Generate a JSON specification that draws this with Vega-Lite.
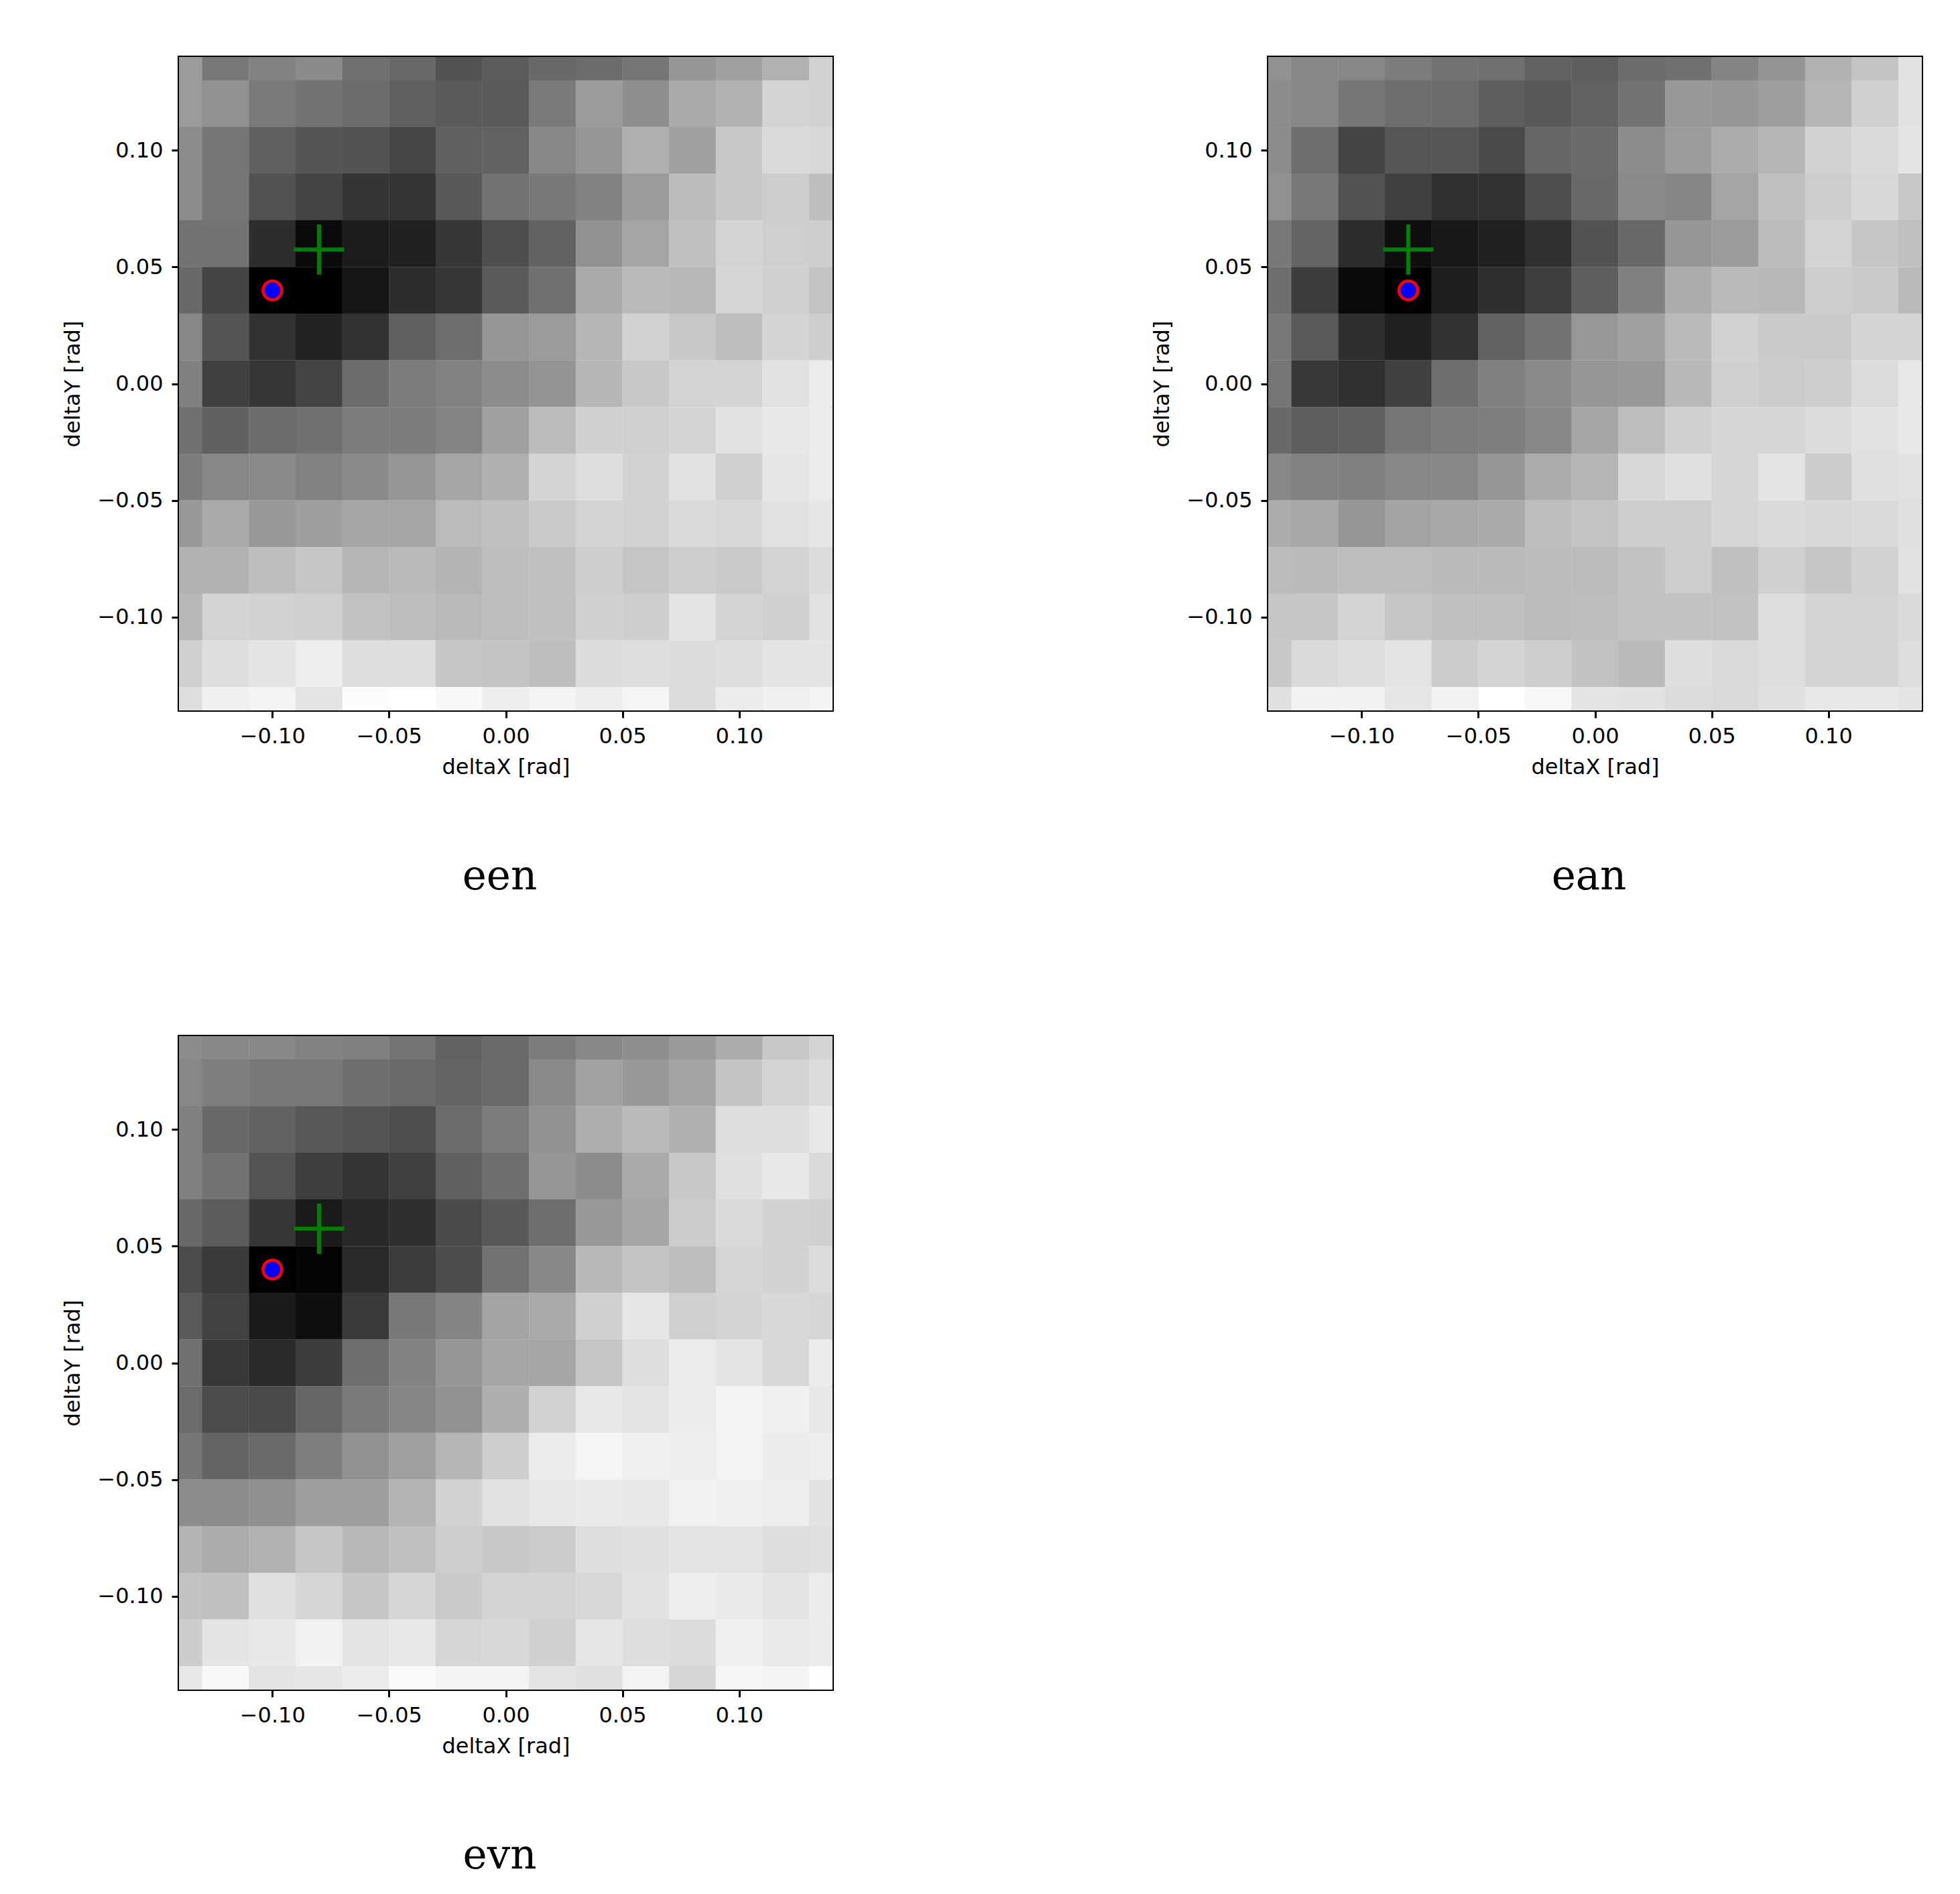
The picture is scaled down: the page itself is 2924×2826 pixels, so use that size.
{"$schema":"https://vega.github.io/schema/vega-lite/v6.json","background":"white","padding":{"left":90,"top":83,"right":0,"bottom":0},"columns":2,"bounds":"flush","spacing":{"column":650,"row":486},
"config":{"view":{"stroke":"#000000","strokeWidth":4},"title":{"font":"DejaVu Serif","fontSize":61,"fontWeight":"normal","color":"#000000","orient":"bottom","anchor":"middle","offset":119,"dx":-9},"axis":{"grid":false,"domain":false,"tickColor":"#000000","tickWidth":3,"tickSize":11,"labelFont":"DejaVu Sans","labelFontSize":32,"labelColor":"#000000","titleFont":"DejaVu Sans","titleFontSize":32,"titleFontWeight":"normal","titleColor":"#000000","format":".2f"},"axisX":{"labelPadding":12,"titlePadding":15},"axisY":{"labelPadding":13,"titlePadding":19}},
"datasets":{
"een":[
{"x":-0.14,"y":0.14,"v":155},{"x":-0.12,"y":0.14,"v":120},{"x":-0.1,"y":0.14,"v":130},{"x":-0.08,"y":0.14,"v":138},{"x":-0.06,"y":0.14,"v":112},{"x":-0.04,"y":0.14,"v":105},{"x":-0.02,"y":0.14,"v":82},{"x":0,"y":0.14,"v":92},{"x":0.02,"y":0.14,"v":105},{"x":0.04,"y":0.14,"v":108},{"x":0.06,"y":0.14,"v":118},{"x":0.08,"y":0.14,"v":150},{"x":0.1,"y":0.14,"v":160},{"x":0.12,"y":0.14,"v":178},{"x":0.14,"y":0.14,"v":210},
{"x":-0.14,"y":0.12,"v":155},{"x":-0.12,"y":0.12,"v":145},{"x":-0.1,"y":0.12,"v":122},{"x":-0.08,"y":0.12,"v":115},{"x":-0.06,"y":0.12,"v":108},{"x":-0.04,"y":0.12,"v":96},{"x":-0.02,"y":0.12,"v":90},{"x":0,"y":0.12,"v":90},{"x":0.02,"y":0.12,"v":122},{"x":0.04,"y":0.12,"v":155},{"x":0.06,"y":0.12,"v":142},{"x":0.08,"y":0.12,"v":170},{"x":0.1,"y":0.12,"v":178},{"x":0.12,"y":0.12,"v":212},{"x":0.14,"y":0.12,"v":210},
{"x":-0.14,"y":0.1,"v":140},{"x":-0.12,"y":0.1,"v":118},{"x":-0.1,"y":0.1,"v":96},{"x":-0.08,"y":0.1,"v":85},{"x":-0.06,"y":0.1,"v":82},{"x":-0.04,"y":0.1,"v":70},{"x":-0.02,"y":0.1,"v":96},{"x":0,"y":0.1,"v":98},{"x":0.02,"y":0.1,"v":135},{"x":0.04,"y":0.1,"v":150},{"x":0.06,"y":0.1,"v":175},{"x":0.08,"y":0.1,"v":160},{"x":0.1,"y":0.1,"v":200},{"x":0.12,"y":0.1,"v":218},{"x":0.14,"y":0.1,"v":215},
{"x":-0.14,"y":0.08,"v":140},{"x":-0.12,"y":0.08,"v":118},{"x":-0.1,"y":0.08,"v":82},{"x":-0.08,"y":0.08,"v":68},{"x":-0.06,"y":0.08,"v":52},{"x":-0.04,"y":0.08,"v":52},{"x":-0.02,"y":0.08,"v":88},{"x":0,"y":0.08,"v":115},{"x":0.02,"y":0.08,"v":120},{"x":0.04,"y":0.08,"v":130},{"x":0.06,"y":0.08,"v":155},{"x":0.08,"y":0.08,"v":188},{"x":0.1,"y":0.08,"v":200},{"x":0.12,"y":0.08,"v":205},{"x":0.14,"y":0.08,"v":190},
{"x":-0.14,"y":0.06,"v":115},{"x":-0.12,"y":0.06,"v":115},{"x":-0.1,"y":0.06,"v":45},{"x":-0.08,"y":0.06,"v":10},{"x":-0.06,"y":0.06,"v":28},{"x":-0.04,"y":0.06,"v":32},{"x":-0.02,"y":0.06,"v":55},{"x":0,"y":0.06,"v":78},{"x":0.02,"y":0.06,"v":98},{"x":0.04,"y":0.06,"v":145},{"x":0.06,"y":0.06,"v":165},{"x":0.08,"y":0.06,"v":192},{"x":0.1,"y":0.06,"v":212},{"x":0.12,"y":0.06,"v":207},{"x":0.14,"y":0.06,"v":205},
{"x":-0.14,"y":0.04,"v":105},{"x":-0.12,"y":0.04,"v":68},{"x":-0.1,"y":0.04,"v":0},{"x":-0.08,"y":0.04,"v":0},{"x":-0.06,"y":0.04,"v":22},{"x":-0.04,"y":0.04,"v":44},{"x":-0.02,"y":0.04,"v":54},{"x":0,"y":0.04,"v":90},{"x":0.02,"y":0.04,"v":112},{"x":0.04,"y":0.04,"v":170},{"x":0.06,"y":0.04,"v":186},{"x":0.08,"y":0.04,"v":183},{"x":0.1,"y":0.04,"v":213},{"x":0.12,"y":0.04,"v":208},{"x":0.14,"y":0.04,"v":195},
{"x":-0.14,"y":0.02,"v":135},{"x":-0.12,"y":0.02,"v":85},{"x":-0.1,"y":0.02,"v":50},{"x":-0.08,"y":0.02,"v":34},{"x":-0.06,"y":0.02,"v":50},{"x":-0.04,"y":0.02,"v":96},{"x":-0.02,"y":0.02,"v":110},{"x":0,"y":0.02,"v":150},{"x":0.02,"y":0.02,"v":155},{"x":0.04,"y":0.02,"v":182},{"x":0.06,"y":0.02,"v":210},{"x":0.08,"y":0.02,"v":200},{"x":0.1,"y":0.02,"v":190},{"x":0.12,"y":0.02,"v":212},{"x":0.14,"y":0.02,"v":205},
{"x":-0.14,"y":0,"v":128},{"x":-0.12,"y":0,"v":64},{"x":-0.1,"y":0,"v":54},{"x":-0.08,"y":0,"v":68},{"x":-0.06,"y":0,"v":108},{"x":-0.04,"y":0,"v":124},{"x":-0.02,"y":0,"v":130},{"x":0,"y":0,"v":140},{"x":0.02,"y":0,"v":148},{"x":0.04,"y":0,"v":182},{"x":0.06,"y":0,"v":200},{"x":0.08,"y":0,"v":212},{"x":0.1,"y":0,"v":212},{"x":0.12,"y":0,"v":225},{"x":0.14,"y":0,"v":235},
{"x":-0.14,"y":-0.02,"v":112},{"x":-0.12,"y":-0.02,"v":96},{"x":-0.1,"y":-0.02,"v":108},{"x":-0.08,"y":-0.02,"v":112},{"x":-0.06,"y":-0.02,"v":124},{"x":-0.04,"y":-0.02,"v":124},{"x":-0.02,"y":-0.02,"v":132},{"x":0,"y":-0.02,"v":160},{"x":0.02,"y":-0.02,"v":188},{"x":0.04,"y":-0.02,"v":208},{"x":0.06,"y":-0.02,"v":208},{"x":0.08,"y":-0.02,"v":212},{"x":0.1,"y":-0.02,"v":226},{"x":0.12,"y":-0.02,"v":232},{"x":0.14,"y":-0.02,"v":235},
{"x":-0.14,"y":-0.04,"v":125},{"x":-0.12,"y":-0.04,"v":135},{"x":-0.1,"y":-0.04,"v":138},{"x":-0.08,"y":-0.04,"v":130},{"x":-0.06,"y":-0.04,"v":138},{"x":-0.04,"y":-0.04,"v":150},{"x":-0.02,"y":-0.04,"v":165},{"x":0,"y":-0.04,"v":175},{"x":0.02,"y":-0.04,"v":212},{"x":0.04,"y":-0.04,"v":222},{"x":0.06,"y":-0.04,"v":210},{"x":0.08,"y":-0.04,"v":226},{"x":0.1,"y":-0.04,"v":208},{"x":0.12,"y":-0.04,"v":230},{"x":0.14,"y":-0.04,"v":235},
{"x":-0.14,"y":-0.06,"v":152},{"x":-0.12,"y":-0.06,"v":170},{"x":-0.1,"y":-0.06,"v":152},{"x":-0.08,"y":-0.06,"v":158},{"x":-0.06,"y":-0.06,"v":165},{"x":-0.04,"y":-0.06,"v":165},{"x":-0.02,"y":-0.06,"v":187},{"x":0,"y":-0.06,"v":192},{"x":0.02,"y":-0.06,"v":202},{"x":0.04,"y":-0.06,"v":212},{"x":0.06,"y":-0.06,"v":210},{"x":0.08,"y":-0.06,"v":218},{"x":0.1,"y":-0.06,"v":216},{"x":0.12,"y":-0.06,"v":225},{"x":0.14,"y":-0.06,"v":230},
{"x":-0.14,"y":-0.08,"v":178},{"x":-0.12,"y":-0.08,"v":178},{"x":-0.1,"y":-0.08,"v":190},{"x":-0.08,"y":-0.08,"v":198},{"x":-0.06,"y":-0.08,"v":182},{"x":-0.04,"y":-0.08,"v":186},{"x":-0.02,"y":-0.08,"v":180},{"x":0,"y":-0.08,"v":190},{"x":0.02,"y":-0.08,"v":192},{"x":0.04,"y":-0.08,"v":206},{"x":0.06,"y":-0.08,"v":198},{"x":0.08,"y":-0.08,"v":206},{"x":0.1,"y":-0.08,"v":202},{"x":0.12,"y":-0.08,"v":212},{"x":0.14,"y":-0.08,"v":220},
{"x":-0.14,"y":-0.1,"v":184},{"x":-0.12,"y":-0.1,"v":212},{"x":-0.1,"y":-0.1,"v":210},{"x":-0.08,"y":-0.1,"v":208},{"x":-0.06,"y":-0.1,"v":194},{"x":-0.04,"y":-0.1,"v":190},{"x":-0.02,"y":-0.1,"v":186},{"x":0,"y":-0.1,"v":190},{"x":0.02,"y":-0.1,"v":192},{"x":0.04,"y":-0.1,"v":208},{"x":0.06,"y":-0.1,"v":206},{"x":0.08,"y":-0.1,"v":228},{"x":0.1,"y":-0.1,"v":212},{"x":0.12,"y":-0.1,"v":208},{"x":0.14,"y":-0.1,"v":225},
{"x":-0.14,"y":-0.12,"v":208},{"x":-0.12,"y":-0.12,"v":222},{"x":-0.1,"y":-0.12,"v":228},{"x":-0.08,"y":-0.12,"v":238},{"x":-0.06,"y":-0.12,"v":222},{"x":-0.04,"y":-0.12,"v":222},{"x":-0.02,"y":-0.12,"v":198},{"x":0,"y":-0.12,"v":196},{"x":0.02,"y":-0.12,"v":190},{"x":0.04,"y":-0.12,"v":220},{"x":0.06,"y":-0.12,"v":222},{"x":0.08,"y":-0.12,"v":220},{"x":0.1,"y":-0.12,"v":222},{"x":0.12,"y":-0.12,"v":228},{"x":0.14,"y":-0.12,"v":228},
{"x":-0.14,"y":-0.14,"v":222},{"x":-0.12,"y":-0.14,"v":240},{"x":-0.1,"y":-0.14,"v":243},{"x":-0.08,"y":-0.14,"v":228},{"x":-0.06,"y":-0.14,"v":252},{"x":-0.04,"y":-0.14,"v":255},{"x":-0.02,"y":-0.14,"v":248},{"x":0,"y":-0.14,"v":238},{"x":0.02,"y":-0.14,"v":243},{"x":0.04,"y":-0.14,"v":238},{"x":0.06,"y":-0.14,"v":245},{"x":0.08,"y":-0.14,"v":220},{"x":0.1,"y":-0.14,"v":235},{"x":0.12,"y":-0.14,"v":240},{"x":0.14,"y":-0.14,"v":243}],
"ean":[
{"x":-0.14,"y":0.14,"v":145},{"x":-0.12,"y":0.14,"v":135},{"x":-0.1,"y":0.14,"v":135},{"x":-0.08,"y":0.14,"v":125},{"x":-0.06,"y":0.14,"v":115},{"x":-0.04,"y":0.14,"v":112},{"x":-0.02,"y":0.14,"v":98},{"x":0,"y":0.14,"v":94},{"x":0.02,"y":0.14,"v":108},{"x":0.04,"y":0.14,"v":112},{"x":0.06,"y":0.14,"v":132},{"x":0.08,"y":0.14,"v":148},{"x":0.1,"y":0.14,"v":178},{"x":0.12,"y":0.14,"v":195},{"x":0.14,"y":0.14,"v":225},
{"x":-0.14,"y":0.12,"v":140},{"x":-0.12,"y":0.12,"v":135},{"x":-0.1,"y":0.12,"v":118},{"x":-0.08,"y":0.12,"v":110},{"x":-0.06,"y":0.12,"v":108},{"x":-0.04,"y":0.12,"v":94},{"x":-0.02,"y":0.12,"v":88},{"x":0,"y":0.12,"v":98},{"x":0.02,"y":0.12,"v":115},{"x":0.04,"y":0.12,"v":152},{"x":0.06,"y":0.12,"v":150},{"x":0.08,"y":0.12,"v":158},{"x":0.1,"y":0.12,"v":182},{"x":0.12,"y":0.12,"v":208},{"x":0.14,"y":0.12,"v":226},
{"x":-0.14,"y":0.1,"v":140},{"x":-0.12,"y":0.1,"v":110},{"x":-0.1,"y":0.1,"v":68},{"x":-0.08,"y":0.1,"v":86},{"x":-0.06,"y":0.1,"v":86},{"x":-0.04,"y":0.1,"v":74},{"x":-0.02,"y":0.1,"v":102},{"x":0,"y":0.1,"v":106},{"x":0.02,"y":0.1,"v":140},{"x":0.04,"y":0.1,"v":155},{"x":0.06,"y":0.1,"v":172},{"x":0.08,"y":0.1,"v":182},{"x":0.1,"y":0.1,"v":210},{"x":0.12,"y":0.1,"v":218},{"x":0.14,"y":0.1,"v":228},
{"x":-0.14,"y":0.08,"v":145},{"x":-0.12,"y":0.08,"v":120},{"x":-0.1,"y":0.08,"v":82},{"x":-0.08,"y":0.08,"v":64},{"x":-0.06,"y":0.08,"v":48},{"x":-0.04,"y":0.08,"v":50},{"x":-0.02,"y":0.08,"v":78},{"x":0,"y":0.08,"v":105},{"x":0.02,"y":0.08,"v":138},{"x":0.04,"y":0.08,"v":134},{"x":0.06,"y":0.08,"v":165},{"x":0.08,"y":0.08,"v":192},{"x":0.1,"y":0.08,"v":205},{"x":0.12,"y":0.08,"v":216},{"x":0.14,"y":0.08,"v":200},
{"x":-0.14,"y":0.06,"v":120},{"x":-0.12,"y":0.06,"v":100},{"x":-0.1,"y":0.06,"v":44},{"x":-0.08,"y":0.06,"v":14},{"x":-0.06,"y":0.06,"v":24},{"x":-0.04,"y":0.06,"v":32},{"x":-0.02,"y":0.06,"v":48},{"x":0,"y":0.06,"v":82},{"x":0.02,"y":0.06,"v":104},{"x":0.04,"y":0.06,"v":150},{"x":0.06,"y":0.06,"v":156},{"x":0.08,"y":0.06,"v":188},{"x":0.1,"y":0.06,"v":212},{"x":0.12,"y":0.06,"v":198},{"x":0.14,"y":0.06,"v":192},
{"x":-0.14,"y":0.04,"v":110},{"x":-0.12,"y":0.04,"v":60},{"x":-0.1,"y":0.04,"v":10},{"x":-0.08,"y":0.04,"v":0},{"x":-0.06,"y":0.04,"v":30},{"x":-0.04,"y":0.04,"v":46},{"x":-0.02,"y":0.04,"v":62},{"x":0,"y":0.04,"v":94},{"x":0.02,"y":0.04,"v":128},{"x":0.04,"y":0.04,"v":172},{"x":0.06,"y":0.04,"v":186},{"x":0.08,"y":0.04,"v":184},{"x":0.1,"y":0.04,"v":205},{"x":0.12,"y":0.04,"v":202},{"x":0.14,"y":0.04,"v":186},
{"x":-0.14,"y":0.02,"v":120},{"x":-0.12,"y":0.02,"v":90},{"x":-0.1,"y":0.02,"v":46},{"x":-0.08,"y":0.02,"v":32},{"x":-0.06,"y":0.02,"v":50},{"x":-0.04,"y":0.02,"v":98},{"x":-0.02,"y":0.02,"v":115},{"x":0,"y":0.02,"v":152},{"x":0.02,"y":0.02,"v":160},{"x":0.04,"y":0.02,"v":186},{"x":0.06,"y":0.02,"v":210},{"x":0.08,"y":0.02,"v":202},{"x":0.1,"y":0.02,"v":202},{"x":0.12,"y":0.02,"v":212},{"x":0.14,"y":0.02,"v":212},
{"x":-0.14,"y":0,"v":118},{"x":-0.12,"y":0,"v":56},{"x":-0.1,"y":0,"v":48},{"x":-0.08,"y":0,"v":64},{"x":-0.06,"y":0,"v":110},{"x":-0.04,"y":0,"v":128},{"x":-0.02,"y":0,"v":138},{"x":0,"y":0,"v":150},{"x":0.02,"y":0,"v":152},{"x":0.04,"y":0,"v":184},{"x":0.06,"y":0,"v":208},{"x":0.08,"y":0,"v":204},{"x":0.1,"y":0,"v":206},{"x":0.12,"y":0,"v":220},{"x":0.14,"y":0,"v":232},
{"x":-0.14,"y":-0.02,"v":105},{"x":-0.12,"y":-0.02,"v":94},{"x":-0.1,"y":-0.02,"v":96},{"x":-0.08,"y":-0.02,"v":118},{"x":-0.06,"y":-0.02,"v":124},{"x":-0.04,"y":-0.02,"v":126},{"x":-0.02,"y":-0.02,"v":136},{"x":0,"y":-0.02,"v":165},{"x":0.02,"y":-0.02,"v":190},{"x":0.04,"y":-0.02,"v":208},{"x":0.06,"y":-0.02,"v":214},{"x":0.08,"y":-0.02,"v":214},{"x":0.1,"y":-0.02,"v":220},{"x":0.12,"y":-0.02,"v":225},{"x":0.14,"y":-0.02,"v":232},
{"x":-0.14,"y":-0.04,"v":135},{"x":-0.12,"y":-0.04,"v":130},{"x":-0.1,"y":-0.04,"v":128},{"x":-0.08,"y":-0.04,"v":136},{"x":-0.06,"y":-0.04,"v":136},{"x":-0.04,"y":-0.04,"v":150},{"x":-0.02,"y":-0.04,"v":172},{"x":0,"y":-0.04,"v":182},{"x":0.02,"y":-0.04,"v":216},{"x":0.04,"y":-0.04,"v":224},{"x":0.06,"y":-0.04,"v":214},{"x":0.08,"y":-0.04,"v":228},{"x":0.1,"y":-0.04,"v":204},{"x":0.12,"y":-0.04,"v":224},{"x":0.14,"y":-0.04,"v":225},
{"x":-0.14,"y":-0.06,"v":172},{"x":-0.12,"y":-0.06,"v":168},{"x":-0.1,"y":-0.06,"v":150},{"x":-0.08,"y":-0.06,"v":164},{"x":-0.06,"y":-0.06,"v":168},{"x":-0.04,"y":-0.06,"v":170},{"x":-0.02,"y":-0.06,"v":190},{"x":0,"y":-0.06,"v":196},{"x":0.02,"y":-0.06,"v":206},{"x":0.04,"y":-0.06,"v":206},{"x":0.06,"y":-0.06,"v":214},{"x":0.08,"y":-0.06,"v":218},{"x":0.1,"y":-0.06,"v":216},{"x":0.12,"y":-0.06,"v":218},{"x":0.14,"y":-0.06,"v":224},
{"x":-0.14,"y":-0.08,"v":188},{"x":-0.12,"y":-0.08,"v":186},{"x":-0.1,"y":-0.08,"v":190},{"x":-0.08,"y":-0.08,"v":190},{"x":-0.06,"y":-0.08,"v":186},{"x":-0.04,"y":-0.08,"v":186},{"x":-0.02,"y":-0.08,"v":188},{"x":0,"y":-0.08,"v":188},{"x":0.02,"y":-0.08,"v":194},{"x":0.04,"y":-0.08,"v":205},{"x":0.06,"y":-0.08,"v":192},{"x":0.08,"y":-0.08,"v":208},{"x":0.1,"y":-0.08,"v":198},{"x":0.12,"y":-0.08,"v":210},{"x":0.14,"y":-0.08,"v":226},
{"x":-0.14,"y":-0.1,"v":198},{"x":-0.12,"y":-0.1,"v":198},{"x":-0.1,"y":-0.1,"v":212},{"x":-0.08,"y":-0.1,"v":198},{"x":-0.06,"y":-0.1,"v":192},{"x":-0.04,"y":-0.1,"v":192},{"x":-0.02,"y":-0.1,"v":188},{"x":0,"y":-0.1,"v":190},{"x":0.02,"y":-0.1,"v":194},{"x":0.04,"y":-0.1,"v":194},{"x":0.06,"y":-0.1,"v":194},{"x":0.08,"y":-0.1,"v":222},{"x":0.1,"y":-0.1,"v":212},{"x":0.12,"y":-0.1,"v":212},{"x":0.14,"y":-0.1,"v":218},
{"x":-0.14,"y":-0.12,"v":200},{"x":-0.12,"y":-0.12,"v":218},{"x":-0.1,"y":-0.12,"v":222},{"x":-0.08,"y":-0.12,"v":228},{"x":-0.06,"y":-0.12,"v":204},{"x":-0.04,"y":-0.12,"v":212},{"x":-0.02,"y":-0.12,"v":205},{"x":0,"y":-0.12,"v":194},{"x":0.02,"y":-0.12,"v":186},{"x":0.04,"y":-0.12,"v":222},{"x":0.06,"y":-0.12,"v":218},{"x":0.08,"y":-0.12,"v":222},{"x":0.1,"y":-0.12,"v":212},{"x":0.12,"y":-0.12,"v":212},{"x":0.14,"y":-0.12,"v":222},
{"x":-0.14,"y":-0.14,"v":224},{"x":-0.12,"y":-0.14,"v":242},{"x":-0.1,"y":-0.14,"v":242},{"x":-0.08,"y":-0.14,"v":230},{"x":-0.06,"y":-0.14,"v":242},{"x":-0.04,"y":-0.14,"v":255},{"x":-0.02,"y":-0.14,"v":248},{"x":0,"y":-0.14,"v":228},{"x":0.02,"y":-0.14,"v":226},{"x":0.04,"y":-0.14,"v":220},{"x":0.06,"y":-0.14,"v":218},{"x":0.08,"y":-0.14,"v":224},{"x":0.1,"y":-0.14,"v":232},{"x":0.12,"y":-0.14,"v":232},{"x":0.14,"y":-0.14,"v":228}],
"evn":[
{"x":-0.14,"y":0.14,"v":140},{"x":-0.12,"y":0.14,"v":136},{"x":-0.1,"y":0.14,"v":136},{"x":-0.08,"y":0.14,"v":130},{"x":-0.06,"y":0.14,"v":128},{"x":-0.04,"y":0.14,"v":116},{"x":-0.02,"y":0.14,"v":98},{"x":0,"y":0.14,"v":106},{"x":0.02,"y":0.14,"v":125},{"x":0.04,"y":0.14,"v":136},{"x":0.06,"y":0.14,"v":142},{"x":0.08,"y":0.14,"v":154},{"x":0.1,"y":0.14,"v":172},{"x":0.12,"y":0.14,"v":200},{"x":0.14,"y":0.14,"v":212},
{"x":-0.14,"y":0.12,"v":135},{"x":-0.12,"y":0.12,"v":126},{"x":-0.1,"y":0.12,"v":120},{"x":-0.08,"y":0.12,"v":120},{"x":-0.06,"y":0.12,"v":110},{"x":-0.04,"y":0.12,"v":106},{"x":-0.02,"y":0.12,"v":100},{"x":0,"y":0.12,"v":106},{"x":0.02,"y":0.12,"v":138},{"x":0.04,"y":0.12,"v":162},{"x":0.06,"y":0.12,"v":152},{"x":0.08,"y":0.12,"v":164},{"x":0.1,"y":0.12,"v":196},{"x":0.12,"y":0.12,"v":212},{"x":0.14,"y":0.12,"v":220},
{"x":-0.14,"y":0.1,"v":128},{"x":-0.12,"y":0.1,"v":105},{"x":-0.1,"y":0.1,"v":98},{"x":-0.08,"y":0.1,"v":88},{"x":-0.06,"y":0.1,"v":84},{"x":-0.04,"y":0.1,"v":78},{"x":-0.02,"y":0.1,"v":108},{"x":0,"y":0.1,"v":124},{"x":0.02,"y":0.1,"v":146},{"x":0.04,"y":0.1,"v":174},{"x":0.06,"y":0.1,"v":186},{"x":0.08,"y":0.1,"v":176},{"x":0.1,"y":0.1,"v":222},{"x":0.12,"y":0.1,"v":222},{"x":0.14,"y":0.1,"v":232},
{"x":-0.14,"y":0.08,"v":128},{"x":-0.12,"y":0.08,"v":115},{"x":-0.1,"y":0.08,"v":84},{"x":-0.08,"y":0.08,"v":62},{"x":-0.06,"y":0.08,"v":52},{"x":-0.04,"y":0.08,"v":64},{"x":-0.02,"y":0.08,"v":96},{"x":0,"y":0.08,"v":110},{"x":0.02,"y":0.08,"v":150},{"x":0.04,"y":0.08,"v":140},{"x":0.06,"y":0.08,"v":170},{"x":0.08,"y":0.08,"v":200},{"x":0.1,"y":0.08,"v":224},{"x":0.12,"y":0.08,"v":232},{"x":0.14,"y":0.08,"v":218},
{"x":-0.14,"y":0.06,"v":105},{"x":-0.12,"y":0.06,"v":92},{"x":-0.1,"y":0.06,"v":54},{"x":-0.08,"y":0.06,"v":26},{"x":-0.06,"y":0.06,"v":40},{"x":-0.04,"y":0.06,"v":46},{"x":-0.02,"y":0.06,"v":74},{"x":0,"y":0.06,"v":88},{"x":0.02,"y":0.06,"v":110},{"x":0.04,"y":0.06,"v":152},{"x":0.06,"y":0.06,"v":166},{"x":0.08,"y":0.06,"v":204},{"x":0.1,"y":0.06,"v":218},{"x":0.12,"y":0.06,"v":210},{"x":0.14,"y":0.06,"v":208},
{"x":-0.14,"y":0.04,"v":76},{"x":-0.12,"y":0.04,"v":58},{"x":-0.1,"y":0.04,"v":0},{"x":-0.08,"y":0.04,"v":4},{"x":-0.06,"y":0.04,"v":42},{"x":-0.04,"y":0.04,"v":60},{"x":-0.02,"y":0.04,"v":76},{"x":0,"y":0.04,"v":114},{"x":0.02,"y":0.04,"v":136},{"x":0.04,"y":0.04,"v":184},{"x":0.06,"y":0.04,"v":196},{"x":0.08,"y":0.04,"v":190},{"x":0.1,"y":0.04,"v":214},{"x":0.12,"y":0.04,"v":210},{"x":0.14,"y":0.04,"v":220},
{"x":-0.14,"y":0.02,"v":90},{"x":-0.12,"y":0.02,"v":66},{"x":-0.1,"y":0.02,"v":26},{"x":-0.08,"y":0.02,"v":14},{"x":-0.06,"y":0.02,"v":58},{"x":-0.04,"y":0.02,"v":120},{"x":-0.02,"y":0.02,"v":132},{"x":0,"y":0.02,"v":164},{"x":0.02,"y":0.02,"v":170},{"x":0.04,"y":0.02,"v":208},{"x":0.06,"y":0.02,"v":230},{"x":0.08,"y":0.02,"v":208},{"x":0.1,"y":0.02,"v":212},{"x":0.12,"y":0.02,"v":216},{"x":0.14,"y":0.02,"v":214},
{"x":-0.14,"y":0,"v":112},{"x":-0.12,"y":0,"v":56},{"x":-0.1,"y":0,"v":42},{"x":-0.08,"y":0,"v":60},{"x":-0.06,"y":0,"v":110},{"x":-0.04,"y":0,"v":130},{"x":-0.02,"y":0,"v":150},{"x":0,"y":0,"v":166},{"x":0.02,"y":0,"v":166},{"x":0.04,"y":0,"v":198},{"x":0.06,"y":0,"v":222},{"x":0.08,"y":0,"v":236},{"x":0.1,"y":0,"v":228},{"x":0.12,"y":0,"v":216},{"x":0.14,"y":0,"v":236},
{"x":-0.14,"y":-0.02,"v":108},{"x":-0.12,"y":-0.02,"v":76},{"x":-0.1,"y":-0.02,"v":74},{"x":-0.08,"y":-0.02,"v":102},{"x":-0.06,"y":-0.02,"v":122},{"x":-0.04,"y":-0.02,"v":134},{"x":-0.02,"y":-0.02,"v":146},{"x":0,"y":-0.02,"v":174},{"x":0.02,"y":-0.02,"v":210},{"x":0.04,"y":-0.02,"v":232},{"x":0.06,"y":-0.02,"v":228},{"x":0.08,"y":-0.02,"v":236},{"x":0.1,"y":-0.02,"v":244},{"x":0.12,"y":-0.02,"v":240},{"x":0.14,"y":-0.02,"v":232},
{"x":-0.14,"y":-0.04,"v":118},{"x":-0.12,"y":-0.04,"v":100},{"x":-0.1,"y":-0.04,"v":106},{"x":-0.08,"y":-0.04,"v":126},{"x":-0.06,"y":-0.04,"v":146},{"x":-0.04,"y":-0.04,"v":160},{"x":-0.02,"y":-0.04,"v":182},{"x":0,"y":-0.04,"v":206},{"x":0.02,"y":-0.04,"v":236},{"x":0.04,"y":-0.04,"v":245},{"x":0.06,"y":-0.04,"v":240},{"x":0.08,"y":-0.04,"v":238},{"x":0.1,"y":-0.04,"v":243},{"x":0.12,"y":-0.04,"v":236},{"x":0.14,"y":-0.04,"v":238},
{"x":-0.14,"y":-0.06,"v":140},{"x":-0.12,"y":-0.06,"v":140},{"x":-0.1,"y":-0.06,"v":144},{"x":-0.08,"y":-0.06,"v":158},{"x":-0.06,"y":-0.06,"v":158},{"x":-0.04,"y":-0.06,"v":180},{"x":-0.02,"y":-0.06,"v":210},{"x":0,"y":-0.06,"v":226},{"x":0.02,"y":-0.06,"v":232},{"x":0.04,"y":-0.06,"v":234},{"x":0.06,"y":-0.06,"v":232},{"x":0.08,"y":-0.06,"v":242},{"x":0.1,"y":-0.06,"v":240},{"x":0.12,"y":-0.06,"v":238},{"x":0.14,"y":-0.06,"v":226},
{"x":-0.14,"y":-0.08,"v":180},{"x":-0.12,"y":-0.08,"v":172},{"x":-0.1,"y":-0.08,"v":178},{"x":-0.08,"y":-0.08,"v":198},{"x":-0.06,"y":-0.08,"v":184},{"x":-0.04,"y":-0.08,"v":192},{"x":-0.02,"y":-0.08,"v":206},{"x":0,"y":-0.08,"v":200},{"x":0.02,"y":-0.08,"v":204},{"x":0.04,"y":-0.08,"v":222},{"x":0.06,"y":-0.08,"v":224},{"x":0.08,"y":-0.08,"v":228},{"x":0.1,"y":-0.08,"v":228},{"x":0.12,"y":-0.08,"v":222},{"x":0.14,"y":-0.08,"v":224},
{"x":-0.14,"y":-0.1,"v":194},{"x":-0.12,"y":-0.1,"v":192},{"x":-0.1,"y":-0.1,"v":224},{"x":-0.08,"y":-0.1,"v":214},{"x":-0.06,"y":-0.1,"v":198},{"x":-0.04,"y":-0.1,"v":214},{"x":-0.02,"y":-0.1,"v":202},{"x":0,"y":-0.1,"v":212},{"x":0.02,"y":-0.1,"v":212},{"x":0.04,"y":-0.1,"v":216},{"x":0.06,"y":-0.1,"v":226},{"x":0.08,"y":-0.1,"v":238},{"x":0.1,"y":-0.1,"v":234},{"x":0.12,"y":-0.1,"v":228},{"x":0.14,"y":-0.1,"v":236},
{"x":-0.14,"y":-0.12,"v":204},{"x":-0.12,"y":-0.12,"v":228},{"x":-0.1,"y":-0.12,"v":232},{"x":-0.08,"y":-0.12,"v":242},{"x":-0.06,"y":-0.12,"v":228},{"x":-0.04,"y":-0.12,"v":232},{"x":-0.02,"y":-0.12,"v":214},{"x":0,"y":-0.12,"v":216},{"x":0.02,"y":-0.12,"v":208},{"x":0.04,"y":-0.12,"v":230},{"x":0.06,"y":-0.12,"v":222},{"x":0.08,"y":-0.12,"v":220},{"x":0.1,"y":-0.12,"v":240},{"x":0.12,"y":-0.12,"v":234},{"x":0.14,"y":-0.12,"v":236},
{"x":-0.14,"y":-0.14,"v":232},{"x":-0.12,"y":-0.14,"v":248},{"x":-0.1,"y":-0.14,"v":228},{"x":-0.08,"y":-0.14,"v":230},{"x":-0.06,"y":-0.14,"v":236},{"x":-0.04,"y":-0.14,"v":250},{"x":-0.02,"y":-0.14,"v":244},{"x":0,"y":-0.14,"v":243},{"x":0.02,"y":-0.14,"v":228},{"x":0.04,"y":-0.14,"v":224},{"x":0.06,"y":-0.14,"v":243},{"x":0.08,"y":-0.14,"v":214},{"x":0.1,"y":-0.14,"v":246},{"x":0.12,"y":-0.14,"v":244},{"x":0.14,"y":-0.14,"v":253}]
},
"concat":[
{"title":{"text":"een"},"width":975,"height":975,"encoding":{"x":{"field":"x","type":"quantitative","title":"deltaX [rad]","axis":{"values":[-0.1,-0.05,0,0.05,0.1]},"scale":{"domain":[-0.14,0.14],"nice":false,"zero":false}},"y":{"field":"y","type":"quantitative","title":"deltaY [rad]","axis":{"values":[-0.1,-0.05,0,0.05,0.1]},"scale":{"domain":[-0.14,0.14],"nice":false,"zero":false}}},"layer":[
{"data":{"name":"een"},"mark":{"type":"rect","width":70,"height":70,"clip":true},"encoding":{"color":{"field":"v","type":"quantitative","scale":{"domain":[0,255],"range":["#000000","#ffffff"],"interpolate":"rgb"},"legend":null}}},
{"data":{"values":[{"x":-0.1,"y":0.04}]},"mark":{"type":"point","shape":"circle","filled":true,"fill":"#0000ff","stroke":"#ff0000","strokeWidth":4.5,"size":784,"opacity":1}},
{"data":{"values":[{"x":-0.08,"y":0.0575}]},"mark":{"type":"point","shape":"M-1,0L1,0M0,-1L0,1","filled":false,"stroke":"#008000","strokeWidth":6,"size":5625,"opacity":1}}]},
{"title":{"text":"ean"},"width":975,"height":975,"encoding":{"x":{"field":"x","type":"quantitative","title":"deltaX [rad]","axis":{"values":[-0.1,-0.05,0,0.05,0.1]},"scale":{"domain":[-0.14,0.14],"nice":false,"zero":false}},"y":{"field":"y","type":"quantitative","title":"deltaY [rad]","axis":{"values":[-0.1,-0.05,0,0.05,0.1]},"scale":{"domain":[-0.14,0.14],"nice":false,"zero":false}}},"layer":[
{"data":{"name":"ean"},"mark":{"type":"rect","width":70,"height":70,"clip":true},"encoding":{"color":{"field":"v","type":"quantitative","scale":{"domain":[0,255],"range":["#000000","#ffffff"],"interpolate":"rgb"},"legend":null}}},
{"data":{"values":[{"x":-0.08,"y":0.04}]},"mark":{"type":"point","shape":"circle","filled":true,"fill":"#0000ff","stroke":"#ff0000","strokeWidth":4.5,"size":784,"opacity":1}},
{"data":{"values":[{"x":-0.08,"y":0.0575}]},"mark":{"type":"point","shape":"M-1,0L1,0M0,-1L0,1","filled":false,"stroke":"#008000","strokeWidth":6,"size":5625,"opacity":1}}]},
{"title":{"text":"evn"},"width":975,"height":975,"encoding":{"x":{"field":"x","type":"quantitative","title":"deltaX [rad]","axis":{"values":[-0.1,-0.05,0,0.05,0.1]},"scale":{"domain":[-0.14,0.14],"nice":false,"zero":false}},"y":{"field":"y","type":"quantitative","title":"deltaY [rad]","axis":{"values":[-0.1,-0.05,0,0.05,0.1]},"scale":{"domain":[-0.14,0.14],"nice":false,"zero":false}}},"layer":[
{"data":{"name":"evn"},"mark":{"type":"rect","width":70,"height":70,"clip":true},"encoding":{"color":{"field":"v","type":"quantitative","scale":{"domain":[0,255],"range":["#000000","#ffffff"],"interpolate":"rgb"},"legend":null}}},
{"data":{"values":[{"x":-0.1,"y":0.04}]},"mark":{"type":"point","shape":"circle","filled":true,"fill":"#0000ff","stroke":"#ff0000","strokeWidth":4.5,"size":784,"opacity":1}},
{"data":{"values":[{"x":-0.08,"y":0.0575}]},"mark":{"type":"point","shape":"M-1,0L1,0M0,-1L0,1","filled":false,"stroke":"#008000","strokeWidth":6,"size":5625,"opacity":1}}]}
]}
